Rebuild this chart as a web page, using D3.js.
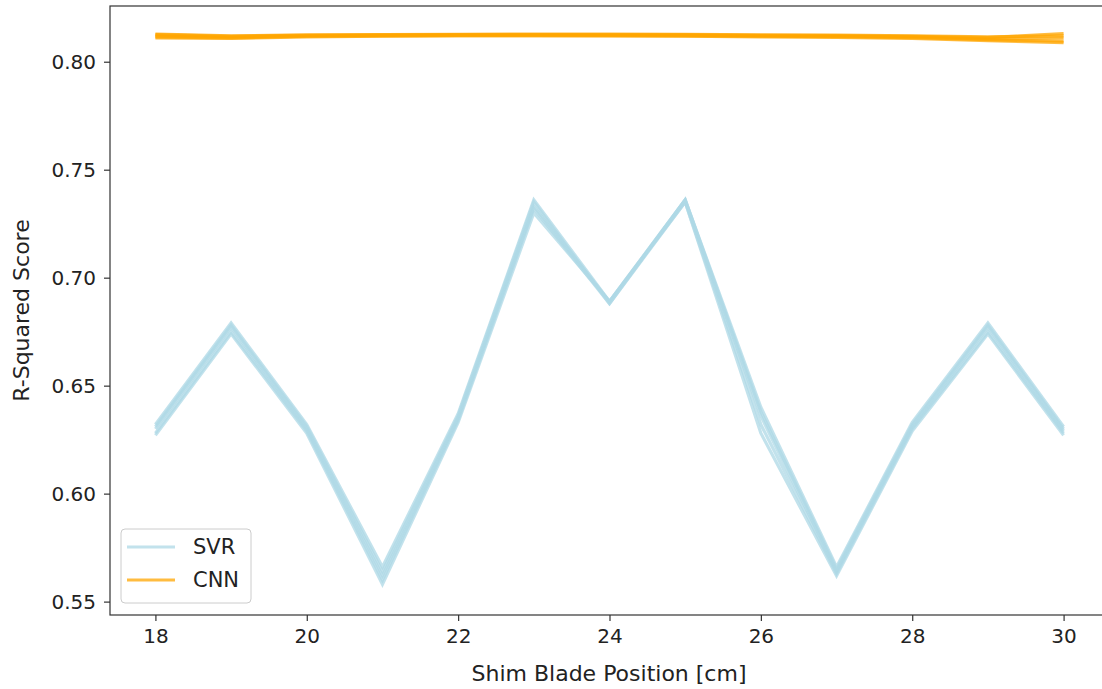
<!doctype html>
<html>
<head>
    <script src="https://d3js.org/d3.v7.min.js"></script>
    <style>
        body { margin: 0; background: #fff; }
        text { font-family: "DejaVu Sans", sans-serif; fill: #222; }
    </style>
</head>
<body>
    <svg width="1102" height="689"></svg>
    <script>
        // shim blade positions [cm]
        var positions = [18, 19, 20, 21, 22, 23, 24, 25, 26, 27, 28, 29, 30];

        // R-squared per run, SVR model
        var svrRun1 = [0.632, 0.679, 0.632, 0.566, 0.637, 0.736, 0.689, 0.736, 0.640, 0.566, 0.633, 0.679, 0.631];
        var svrRun2 = [0.630, 0.677, 0.630, 0.562, 0.635, 0.733, 0.689, 0.736, 0.636, 0.564, 0.631, 0.677, 0.629];
        var svrRun3 = [0.628, 0.675, 0.629, 0.560, 0.634, 0.732, 0.688, 0.735, 0.632, 0.563, 0.630, 0.675, 0.628];
        var svrRun4 = [0.627, 0.674, 0.628, 0.558, 0.633, 0.730, 0.689, 0.735, 0.628, 0.562, 0.629, 0.674, 0.627];
        var svrRun5 = [0.631, 0.678, 0.631, 0.564, 0.636, 0.735, 0.688, 0.736, 0.638, 0.565, 0.632, 0.678, 0.630];

        // R-squared per run, CNN model
        var cnnRun1 = [0.8125, 0.8118, 0.8122, 0.8124, 0.8125, 0.8126, 0.8126, 0.8125, 0.8122, 0.8121, 0.8118, 0.8112, 0.8130];
        var cnnRun2 = [0.8115, 0.8110, 0.8118, 0.8120, 0.8122, 0.8122, 0.8121, 0.8120, 0.8118, 0.8116, 0.8112, 0.8102, 0.8095];
        var cnnRun3 = [0.8120, 0.8114, 0.8120, 0.8122, 0.8123, 0.8124, 0.8123, 0.8122, 0.8120, 0.8118, 0.8115, 0.8106, 0.8110];
        var cnnRun4 = [0.8110, 0.8108, 0.8115, 0.8118, 0.8120, 0.8120, 0.8119, 0.8118, 0.8115, 0.8113, 0.8108, 0.8098, 0.8088];
        var cnnRun5 = [0.8128, 0.8120, 0.8124, 0.8126, 0.8127, 0.8128, 0.8128, 0.8127, 0.8124, 0.8123, 0.8120, 0.8115, 0.8120];

        var xTicks = [18, 20, 22, 24, 26, 28, 30];
        var yTicks = [0.55, 0.60, 0.65, 0.70, 0.75, 0.80];

        var svrRuns = [svrRun1, svrRun2, svrRun3, svrRun4, svrRun5];
        var cnnRuns = [cnnRun1, cnnRun2, cnnRun3, cnnRun4, cnnRun5];

        var svg = d3.select("svg");
        var mLeft = 110, mTop = 6, mRight = 1109, mBottom = 615;

        var xScale = d3.scaleLinear().domain([17.4, 30.6]).range([mLeft, mRight]);
        var yScale = d3.scaleLinear().domain([0.5438, 0.8258]).range([mBottom, mTop]);

        var line = d3.line()
            .x(function(d, i) { return xScale(positions[i]); })
            .y(function(d) { return yScale(d); });

        var plot = svg.append("g");

        // lines are semi-transparent, the overlapping runs build up the solid band
        plot.selectAll(".svr")
            .data(svrRuns)
            .enter().append("path")
            .attr("class", "svr")
            .attr("d", line)
            .attr("fill", "none")
            .attr("stroke", "#add8e6")
            .attr("stroke-opacity", 0.75)
            .attr("stroke-width", 3.2);

        plot.selectAll(".cnn")
            .data(cnnRuns)
            .enter().append("path")
            .attr("class", "cnn")
            .attr("d", line)
            .attr("fill", "none")
            .attr("stroke", "#ffa500")
            .attr("stroke-opacity", 0.75)
            .attr("stroke-width", 3.2);

        // axes
        var xAxis = svg.append("g")
            .attr("transform", "translate(0," + mBottom + ")")
            .call(d3.axisBottom(xScale).tickValues(xTicks).tickSize(6).tickPadding(8).tickFormat(d3.format("d")));

        var yAxis = svg.append("g")
            .attr("transform", "translate(" + mLeft + ",0)")
            .call(d3.axisLeft(yScale).tickValues(yTicks).tickSize(6).tickPadding(8).tickFormat(d3.format(".2f")));

        [xAxis, yAxis].forEach(function(a) {
            a.select(".domain").remove();
            a.selectAll("line").attr("stroke", "#333").attr("stroke-width", 1.2);
            a.selectAll("text").attr("font-size", "20px").attr("font-family", "DejaVu Sans").attr("fill", "#222");
        });

        // frame (right edge falls outside the picture)
        svg.append("rect")
            .attr("x", mLeft).attr("y", mTop)
            .attr("width", mRight - mLeft).attr("height", mBottom - mTop)
            .attr("fill", "none")
            .attr("stroke", "#333")
            .attr("stroke-width", 1.2);

        svg.append("text")
            .attr("x", 609)
            .attr("y", 681)
            .attr("text-anchor", "middle")
            .attr("font-size", "22px")
            .text("Shim Blade Position [cm]");

        svg.append("text")
            .attr("transform", "translate(29," + (mTop + mBottom) / 2 + ") rotate(-90)")
            .attr("text-anchor", "middle")
            .attr("font-size", "22px")
            .text("R-Squared Score");

        // legend
        var legend = svg.append("g").attr("transform", "translate(121,529)");
        legend.append("rect")
            .attr("width", 130).attr("height", 74)
            .attr("rx", 4)
            .attr("fill", "#fff").attr("fill-opacity", 0.8)
            .attr("stroke", "#ccc");

        var legendItems = [{name: "SVR", color: "#add8e6"}, {name: "CNN", color: "#ffa500"}];
        legendItems.forEach(function(d, i) {
            var y = 18 + i * 33;
            legend.append("line")
                .attr("x1", 6).attr("x2", 54)
                .attr("y1", y).attr("y2", y)
                .attr("stroke", d.color).attr("stroke-opacity", 0.75).attr("stroke-width", 3.2);
            legend.append("text")
                .attr("x", 72).attr("y", y + 7)
                .attr("font-size", "21px")
                .text(d.name);
        });
    </script>
</body>
</html>
